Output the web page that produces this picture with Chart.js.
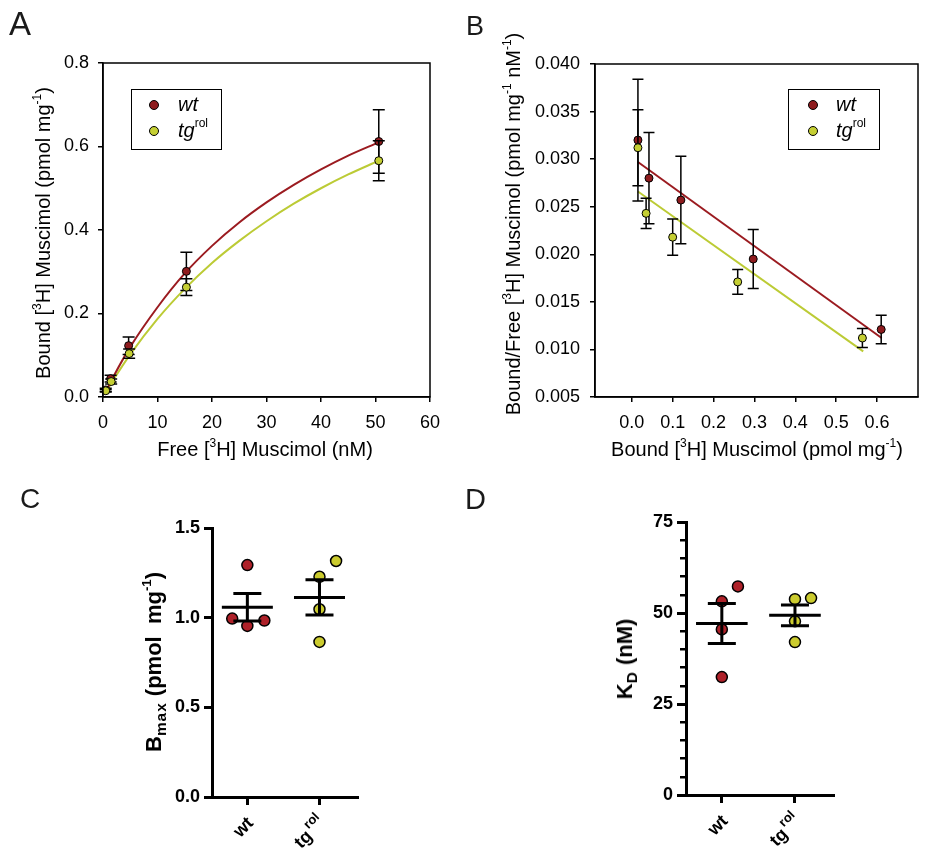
<!DOCTYPE html>
<html>
<head>
<meta charset="utf-8">
<script src="https://cdn.jsdelivr.net/npm/chart.js@4.4.1/dist/chart.umd.min.js"></script>
<style>
  body { margin: 0; background: #fff; }
  #fig { position: relative; width: 933px; height: 867px; overflow: hidden;
         font-family: "Liberation Sans", Arial, sans-serif; color: #000; }
  canvas { position: absolute; }
  .letter { position: absolute; line-height: 1; color: #1a1a1a; }
  .ttl { position: absolute; white-space: nowrap; font-size: 20px; line-height: 1;
         transform: translate(-50%, -50%); }
  .rot { transform: translate(-50%, -50%) rotate(-90deg); }
  .bold { font-weight: bold; font-size: 22px; }
  sup { font-size: 0.6em; line-height: 0; position: relative; top: -0.75em; vertical-align: baseline; }
  sub { font-size: 0.7em; line-height: 0; position: relative; top: 0.3em; vertical-align: baseline; letter-spacing: 1px; }
  .lgbox { position: absolute; border: 1.5px solid #000; box-sizing: border-box; }
  .dot { position: absolute; width: 10px; height: 10px; border: 1px solid #000;
         border-radius: 50%; box-sizing: border-box; }
  .lgtxt { position: absolute; font-style: italic; font-size: 20px; line-height: 1; white-space: nowrap; }
  .lgtxt sup { font-style: normal; font-size: 12px; top: -0.8em; }
</style>
</head>
<body>
<div id="fig">
  <canvas id="chartA" width="460" height="470" style="left:0;top:0;width:460px;height:470px"></canvas>
  <canvas id="chartB" width="473" height="470" style="left:460px;top:0;width:473px;height:470px"></canvas>
  <canvas id="chartC" width="460" height="387" style="left:0;top:480px;width:460px;height:387px"></canvas>
  <canvas id="chartD" width="473" height="387" style="left:460px;top:480px;width:473px;height:387px"></canvas>

  <div class="letter" style="left:9px;top:7px;font-size:33px">A</div>
  <div class="letter" style="left:466px;top:13px;font-size:27px">B</div>
  <div class="letter" style="left:20px;top:485px;font-size:28px">C</div>
  <div class="letter" style="left:465px;top:485px;font-size:29px">D</div>

  <div class="ttl" style="left:265px;top:449px">Free [<sup>3</sup>H] Muscimol (nM)</div>
  <div class="ttl rot" style="left:43px;top:233px">Bound [<sup>3</sup>H] Muscimol (pmol mg<sup>-1</sup>)</div>
  <div class="ttl rot" style="left:513px;top:224px">Bound/Free [<sup>3</sup>H] Muscimol (pmol mg<sup>-1</sup> nM<sup>-1</sup>)</div>
  <div class="ttl" style="left:757px;top:449px">Bound [<sup>3</sup>H] Muscimol (pmol mg<sup>-1</sup>)</div>
  <div class="ttl rot bold" style="left:154px;top:662px">B<sub>max</sub> (pmol&nbsp; mg<sup>-1</sup>)</div>
  <div class="ttl rot bold" style="left:625px;top:659px">K<sub>D</sub> (nM)</div>

  <div class="lgbox" style="left:131px;top:89px;width:91px;height:61px"></div>
  <div class="dot" style="left:149px;top:100px;background:#8e1b1e"></div>
  <div class="dot" style="left:149px;top:126px;background:#c5cf33"></div>
  <div class="lgtxt" style="left:178px;top:94px">wt</div>
  <div class="lgtxt" style="left:178px;top:120px">tg<sup>rol</sup></div>

  <div class="lgbox" style="left:788px;top:89px;width:92px;height:61px"></div>
  <div class="dot" style="left:808px;top:100px;background:#8e1b1e"></div>
  <div class="dot" style="left:808px;top:126px;background:#c5cf33"></div>
  <div class="lgtxt" style="left:836px;top:94px">wt</div>
  <div class="lgtxt" style="left:836px;top:120px">tg<sup>rol</sup></div>
</div>
<script>
// ---- A: saturation binding (free vs bound) ----
const freeWt = [0.5, 1.4, 4.7, 15.3, 50.6];
const boundWt = [0.017, 0.044, 0.123, 0.301, 0.612];
const semBoundWt = [0.004, 0.008, 0.021, 0.046, 0.076];
const freeTg = [0.5, 1.5, 4.8, 15.3, 50.6];
const boundTg = [0.015, 0.037, 0.104, 0.263, 0.566];
const semBoundTg = [0.003, 0.006, 0.011, 0.02, 0.048];
// fitted curves
const fitFree = [0.5, 2, 5, 10, 15, 20, 25, 30, 35, 40, 45, 50.6];
const fitWt = [0.013, 0.051, 0.12, 0.215, 0.296, 0.362, 0.418, 0.466, 0.508, 0.545, 0.578, 0.61];
const fitTg = [0.011, 0.043, 0.102, 0.187, 0.259, 0.321, 0.374, 0.421, 0.463, 0.5, 0.533, 0.566];
const ticksA_x = [0, 10, 20, 30, 40, 50, 60];
const ticksA_y = [0, 0.2, 0.4, 0.6, 0.8];

// ---- B: Scatchard ----
const scatBoundWt = [0.015, 0.042, 0.12, 0.297, 0.61];
const scatRatioWt = [0.0320, 0.0280, 0.0257, 0.0195, 0.0121];
const scatSemWt = [0.0064, 0.0048, 0.0046, 0.0031, 0.0015];
const scatBoundTg = [0.015, 0.035, 0.10, 0.259, 0.564];
const scatRatioTg = [0.0312, 0.0243, 0.0218, 0.0171, 0.0112];
const scatSemTg = [0.0040, 0.0016, 0.0019, 0.0013, 0.0010];
const regBoundWt = [0.015, 0.611];
const regRatioWt = [0.0297, 0.0112];
const regBoundTg = [0.015, 0.566];
const regRatioTg = [0.0266, 0.0098];
const ticksB_x = [0, 0.1, 0.2, 0.3, 0.4, 0.5, 0.6];

// ---- C / D: per-animal Bmax and KD ----
const groups = ['wt', 'tg'];
const groupSup = ['', 'rol'];
const bmaxWt = [1.293, 0.995, 0.984, 0.954];
const bmaxTg = [1.316, 1.228, 1.047, 0.865];
const bmaxJitterWt = [0, -0.21, 0.236, 0];
const bmaxJitterTg = [0.23, 0, 0, 0];
const bmaxMean = [1.058, 1.113];
const bmaxSem = [0.077, 0.098];
const kdWt = [57.3, 53.2, 45.5, 32.4];
const kdTg = [54.1, 53.8, 47.7, 42.0];
const kdJitterWt = [0.22, 0, 0, 0];
const kdJitterTg = [0.22, 0, 0, 0];
const kdMean = [47.1, 49.35];
const kdSem = [5.5, 2.85];

const RED = '#8e1b1e', YEL = '#c5cf33';
const RED_LINE = '#9b1b20', YEL_LINE = '#bccb35';
const RED_C = '#ae2129', YEL_C = '#cbcb2e';
const FONT = "'Liberation Sans', Arial, sans-serif";

Chart.defaults.font.family = FONT;
Chart.defaults.font.size = 18;
Chart.defaults.color = '#000';
Chart.defaults.animation = false;
Chart.defaults.events = [];
Chart.defaults.plugins.legend.display = false;
Chart.defaults.plugins.tooltip.enabled = false;

let pts = (xs, ys) => xs.map((x, i) => ({ x: x, y: ys[i] }));
let fixedTicks = (vals) => (axis) => { axis.ticks = vals.map((v) => ({ value: v })); };

// box around the plot area (A, B)
const frame = {
  id: 'frame',
  afterDraw(chart) {
    const { ctx, chartArea: a } = chart;
    ctx.save();
    ctx.strokeStyle = '#000';
    ctx.lineWidth = 1.5;
    ctx.strokeRect(a.left, a.top, a.right - a.left, a.bottom - a.top);
    ctx.restore();
  },
};

// vertical SEM bars under each point dataset that carries an err array
const errorBars = {
  id: 'errorBars',
  beforeDatasetDraw(chart, args, opts) {
    const ds = chart.data.datasets[args.index];
    if (!ds.err) return;
    const ctx = chart.ctx;
    const y = chart.scales.y;
    ctx.save();
    ctx.strokeStyle = '#000';
    ctx.lineWidth = opts.width || 1.5;
    args.meta.data.forEach((pt, j) => {
      const v = ds.data[j].y;
      const top = y.getPixelForValue(v + ds.err[j]);
      const bot = y.getPixelForValue(v - ds.err[j]);
      const c = opts.cap || 6;
      ctx.beginPath();
      ctx.moveTo(pt.x, top); ctx.lineTo(pt.x, bot);
      ctx.moveTo(pt.x - c, top); ctx.lineTo(pt.x + c, top);
      ctx.moveTo(pt.x - c, bot); ctx.lineTo(pt.x + c, bot);
      ctx.stroke();
    });
    ctx.restore();
  },
};

// mean line with SEM whiskers per group (C, D)
const meanSem = {
  id: 'meanSem',
  afterDatasetsDraw(chart, args, opts) {
    const { ctx } = chart;
    const x = chart.scales.x, y = chart.scales.y;
    ctx.save();
    ctx.strokeStyle = '#000';
    ctx.lineWidth = 3;
    opts.mean.forEach((m, i) => {
      const px = x.getPixelForValue(i);
      const pm = y.getPixelForValue(m);
      const pt = y.getPixelForValue(m + opts.sem[i]);
      const pb = y.getPixelForValue(m - opts.sem[i]);
      ctx.beginPath();
      ctx.moveTo(px - opts.half, pm); ctx.lineTo(px + opts.half, pm);
      ctx.moveTo(px, pt); ctx.lineTo(px, pb);
      ctx.moveTo(px - opts.cap, pt); ctx.lineTo(px + opts.cap, pt);
      ctx.moveTo(px - opts.cap, pb); ctx.lineTo(px + opts.cap, pb);
      ctx.stroke();
    });
    ctx.restore();
  },
};

// rotated group names with superscript (C, D)
const groupLabels = {
  id: 'groupLabels',
  afterDraw(chart) {
    const { ctx } = chart;
    const x = chart.scales.x;
    const base = chart.chartArea.bottom;
    groups.forEach((g, i) => {
      const px = x.getPixelForValue(i);
      ctx.save();
      ctx.fillStyle = '#000';
      ctx.translate(px + 7, base + 27);
      ctx.rotate(-Math.PI / 4);
      ctx.textAlign = 'right';
      ctx.textBaseline = 'alphabetic';
      let off = 0;
      if (groupSup[i]) {
        ctx.font = 'bold 13px ' + FONT;
        ctx.fillText(groupSup[i], 0, -9);
        off = ctx.measureText(groupSup[i]).width + 2;
      }
      ctx.font = 'bold 18px ' + FONT;
      ctx.fillText(g, -off, 0);
      ctx.restore();
    });
  },
};

let thinAxis = (min, max, ticks, labelFmt, fit, pad) => ({
  type: 'linear',
  min: min,
  max: max,
  afterBuildTicks: fixedTicks(ticks),
  afterFit: fit,
  border: { color: '#000', width: 1.5 },
  grid: { drawOnChartArea: false, color: '#000', lineWidth: 1.5, tickLength: 5 },
  ticks: { padding: pad, font: { size: 18 }, callback: labelFmt },
});

new Chart(document.getElementById('chartA'), {
  type: 'scatter',
  data: {
    datasets: [
      { data: pts(freeTg, boundTg), err: semBoundTg, order: 0,
        pointRadius: 4, pointBorderWidth: 1, pointBorderColor: '#000', pointBackgroundColor: YEL },
      { data: pts(freeWt, boundWt), err: semBoundWt, order: 1,
        pointRadius: 4, pointBorderWidth: 1, pointBorderColor: '#000', pointBackgroundColor: RED },
      { data: pts(fitFree, fitWt), order: 2, showLine: true, pointRadius: 0,
        borderColor: RED_LINE, borderWidth: 2, tension: 0.4, cubicInterpolationMode: 'monotone' },
      { data: pts(fitFree, fitTg), order: 3, showLine: true, pointRadius: 0,
        borderColor: YEL_LINE, borderWidth: 2, tension: 0.4, cubicInterpolationMode: 'monotone' },
    ],
  },
  options: {
    responsive: false,
    layout: { padding: { left: 0, top: 63, right: 30, bottom: 23 } },
    scales: {
      x: thinAxis(0, 60, ticksA_x, (v) => v, (s) => { s.height = 50; }, 10),
      y: thinAxis(0, 0.8, ticksA_y, (v) => v.toFixed(1), (s) => { s.width = 103; }, 9),
    },
    plugins: { errorBars: { cap: 6, width: 1.5 } },
  },
  plugins: [errorBars, frame],
});

new Chart(document.getElementById('chartB'), {
  type: 'scatter',
  data: {
    datasets: [
      { data: pts(scatBoundTg, scatRatioTg), err: scatSemTg, order: 0,
        pointRadius: 4, pointBorderWidth: 1, pointBorderColor: '#000', pointBackgroundColor: YEL },
      { data: pts(scatBoundWt, scatRatioWt), err: scatSemWt, order: 1,
        pointRadius: 4, pointBorderWidth: 1, pointBorderColor: '#000', pointBackgroundColor: RED },
      { data: pts(regBoundWt, regRatioWt), order: 2, showLine: true, pointRadius: 0,
        borderColor: RED_LINE, borderWidth: 2 },
      { data: pts(regBoundTg, regRatioTg), order: 3, showLine: true, pointRadius: 0,
        borderColor: YEL_LINE, borderWidth: 2 },
    ],
  },
  options: {
    responsive: false,
    layout: { padding: { left: 0, top: 64, right: 15, bottom: 23 } },
    scales: {
      x: thinAxis(-0.09, 0.7, ticksB_x, (v) => v.toFixed(1), (s) => { s.height = 50; }, 10),
      y: {
        type: 'linear', min: 0.005, max: 0.04,
        afterFit: (s) => { s.width = 135; },
        border: { color: '#000', width: 1.5 },
        grid: { drawOnChartArea: false, color: '#000', lineWidth: 1.5, tickLength: 5 },
        ticks: { stepSize: 0.005, padding: 10, font: { size: 18 }, callback: (v) => v.toFixed(3) },
      },
    },
    plugins: { errorBars: { cap: 5.5, width: 1.5 } },
  },
  plugins: [errorBars, frame],
});

let groupX = (g, jit) => jit.map((j) => g + j);

let dotChart = (id, wt, tg, jitWt, jitTg, yOpts, pad, yWidth, stats, extraScales) => {
  const scales = {
    x: {
      type: 'linear', min: -0.49, max: 1.52,
      afterBuildTicks: fixedTicks([0, 1]),
      afterFit: (s) => { s.height = 40; },
      border: { color: '#000', width: 3 },
      grid: { drawOnChartArea: false, color: '#000', lineWidth: 3, tickLength: 8 },
      ticks: { display: false },
    },
    y: Object.assign({
      type: 'linear', weight: 1,
      afterFit: (s) => { s.width = yWidth; },
      border: { color: '#000', width: 3 },
    }, yOpts),
  };
  Object.assign(scales, extraScales || {});
  new Chart(document.getElementById(id), {
    type: 'scatter',
    data: {
      datasets: [
        { data: pts(groupX(0, jitWt), wt), pointRadius: 5.5, pointBorderWidth: 1.5,
          pointBorderColor: '#000', pointBackgroundColor: RED_C },
        { data: pts(groupX(1, jitTg), tg), pointRadius: 5.5, pointBorderWidth: 1.5,
          pointBorderColor: '#000', pointBackgroundColor: YEL_C },
      ],
    },
    options: {
      responsive: false,
      layout: { padding: pad },
      scales: scales,
      plugins: { meanSem: stats },
    },
    plugins: [meanSem, groupLabels],
  });
};

dotChart('chartC', bmaxWt, bmaxTg, bmaxJitterWt, bmaxJitterTg, {
  min: 0, max: 1.5,
  grid: { drawOnChartArea: false, color: '#000', lineWidth: 3, tickLength: 8 },
  ticks: { stepSize: 0.5, padding: 4, font: { size: 18, weight: 'bold' }, callback: (v) => v.toFixed(1) },
}, { left: 0, top: 48, right: 103, bottom: 30 }, 212,
{ mean: bmaxMean, sem: bmaxSem, half: 25.5, cap: 14 });

dotChart('chartD', kdWt, kdTg, kdJitterWt, kdJitterTg, {
  min: 0, max: 75,
  grid: { drawOnChartArea: false, color: '#000', lineWidth: 3, tickLength: 9 },
  ticks: { stepSize: 25, padding: 4, font: { size: 18, weight: 'bold' } },
}, { left: 0, top: 42, right: 100, bottom: 32 }, 226,
{ mean: kdMean, sem: kdSem, half: 25.8, cap: 14 },
{
  yMinor: {
    type: 'linear', position: 'left', weight: 0, min: 0, max: 75,
    afterFit: (s) => { s.width = 0; },
    border: { display: false },
    grid: { drawOnChartArea: false, color: '#000', lineWidth: 2.5, tickLength: 6 },
    ticks: { display: false, stepSize: 5 },
  },
});
</script>
</body>
</html>
